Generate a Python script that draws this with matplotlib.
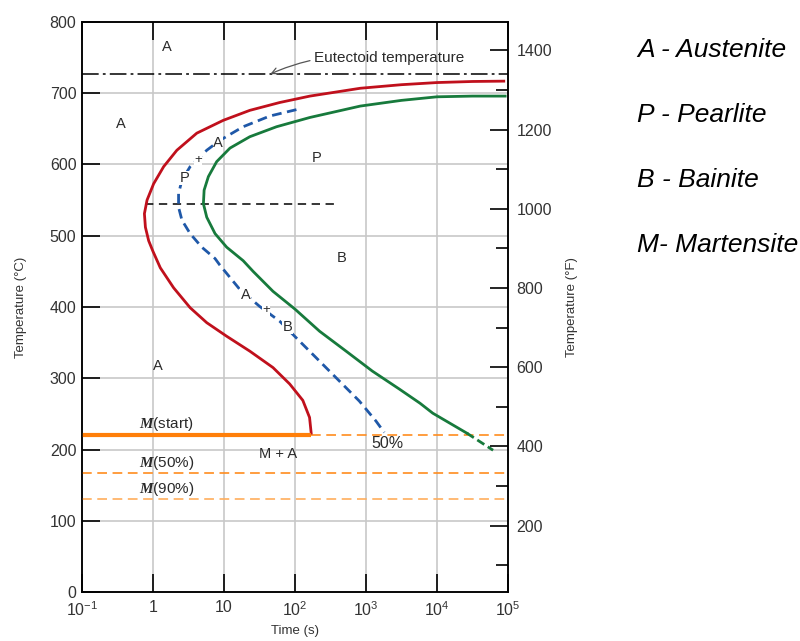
import matplotlib
matplotlib.use("Agg")
import matplotlib.pyplot as plt
import numpy as np

plt.rcParams['font.family'] = ['Liberation Sans', 'DejaVu Sans']
plt.rcParams['mathtext.fontset'] = 'custom'
plt.rcParams['mathtext.rm'] = 'Liberation Sans'
plt.rcParams['mathtext.it'] = 'Liberation Serif:italic:bold'
plt.rcParams['lines.scale_dashes'] = False

# ---------------- data (time as log10 of seconds, temperature in °C) ----------------
# start of transformation (red)
start_logt = [4.96, 4.5, 4.0, 3.5, 2.92, 2.21, 1.785, 1.364, 0.99, 0.617, 0.336, 0.15, 0.009,
              -0.084, -0.121, -0.107, -0.061, 0.0, 0.103, 0.29, 0.523, 0.757, 1.037, 1.364,
              1.69, 1.925, 2.11, 2.205, 2.23]
start_T = [717, 716.5, 715, 712, 707, 696, 687, 676, 662, 644, 620, 597, 573,
           550, 531, 512, 493, 478, 455, 427, 399, 378, 359, 338,
           315, 292, 269, 245, 221]

# 50% transformation (blue dashed)
half_logt = [2.02, 1.645, 1.27, 0.944, 0.757, 0.523, 0.407, 0.36, 0.36, 0.407, 0.523, 0.687,
             0.874, 0.94, 1.22, 1.50, 1.785, 2.065, 2.346, 2.626, 2.906, 3.14, 3.257]
half_T = [677, 668, 653, 634, 620, 597, 578, 559, 540, 522, 503, 484,
          468, 459, 425, 401, 380, 352, 324, 296, 268, 240, 224]

# end of transformation (green)
end_logt = [4.96, 4.5, 4.0, 3.5, 2.92, 2.21, 1.74, 1.364, 1.084, 0.897, 0.78, 0.72, 0.71,
            0.757, 0.874, 1.037, 1.27, 1.41, 1.69, 2.0, 2.346, 2.72, 3.09, 3.467,
            3.76, 3.94, 4.42]
end_T = [696, 696, 695, 690, 682, 666, 653, 639, 623, 604, 583, 564, 545,
         526, 503, 484, 465, 450, 422, 397, 366, 338, 310, 285,
         265, 251, 223]
end_ext_logt = [4.42, 4.79]
end_ext_T = [223, 199]

eutectoid_T = 727
nose_T = 545
nose_t = [0.78, 400]
Ms_T = 221
M50_T = 167
M90_T = 130
Ms_end_t = 170

xticks = [0.1, 1, 10, 100, 1000, 1e4, 1e5]
xtick_labels = [r'$\mathdefault{10^{-1}}$', '1', '10', r'$\mathdefault{10^{2}}$',
                r'$\mathdefault{10^{3}}$', r'$\mathdefault{10^{4}}$', r'$\mathdefault{10^{5}}$']
yticks_C = [0, 100, 200, 300, 400, 500, 600, 700, 800]
yticks_F = [200, 400, 600, 800, 1000, 1200, 1400]
yminor_F = [100, 300, 500, 700, 900, 1100, 1300]

legend_lines = ['A - Austenite', 'P - Pearlite', 'B - Bainite', 'M- Martensite']

start_t = np.power(10.0, start_logt)
half_t = np.power(10.0, half_logt)
end_t = np.power(10.0, end_logt)
end_ext_t = np.power(10.0, end_ext_logt)

# ---------------- figure ----------------
fig = plt.figure(figsize=(8.0, 6.41), dpi=100)
ax = fig.add_axes([0.1025, 0.0764, 0.5325, 0.8893])
ax.set_xscale('log')
ax.set_xlim(0.1, 1e5)
ax.set_ylim(0, 800)

grid_c = '#c8c8c8'
for x in xticks[1:-1]:
    ax.axvline(x, color=grid_c, lw=1.2, zorder=0)
for y in yticks_C[1:-1]:
    ax.axhline(y, color=grid_c, lw=1.2, zorder=0)

red = '#c0101c'
blue = '#1f58a8'
green = '#177a3c'
orange = '#ff7f0a'
orange50 = '#ff8c1e'
orange90 = '#ffae5c'
txt = '#2a2a2a'

ax.plot(start_t, start_T, color=red, lw=2.0, zorder=4, solid_capstyle='butt', solid_joinstyle='round')
ax.plot(half_t, half_T, color=blue, lw=2.0, dashes=(7, 4), zorder=4)
ax.plot(end_t, end_T, color=green, lw=2.0, zorder=4, solid_joinstyle='round')
ax.plot(end_ext_t, end_ext_T, color=green, lw=2.0, dashes=(6, 3), zorder=4)

# eutectoid line
ax.plot([0.1, 1e5], [eutectoid_T, eutectoid_T], color='black', lw=1.1, dashes=(12, 3, 2, 3), zorder=3)
# nose dashed line
ax.plot(nose_t, [nose_T, nose_T], color='black', lw=1.1, dashes=(6, 4), zorder=3)

# martensite lines
ax.plot([0.1, Ms_end_t], [Ms_T, Ms_T], color=orange, lw=3.0, zorder=5, solid_capstyle='butt')
ax.plot([Ms_end_t, 1e5], [Ms_T, Ms_T], color=orange50, lw=1.2, dashes=(7, 4), zorder=3)
ax.plot([0.1, 1e5], [M50_T, M50_T], color=orange50, lw=1.2, dashes=(7, 4), zorder=3)
ax.plot([0.1, 1e5], [M90_T, M90_T], color=orange90, lw=1.2, dashes=(7, 4), zorder=3)

# labels
fs = 10.5
def lab(x, y, s, size=fs, bg=False):
    kw = dict(color=txt, fontsize=size, ha='center', va='center', zorder=6)
    if bg:
        kw['bbox'] = dict(facecolor='white', edgecolor='none', pad=0.3)
    ax.text(x, y, s, **kw)

lab(1.57, 765, 'A')
lab(0.355, 657, 'A')
lab(8.2, 630, 'A', bg=True)
lab(4.3, 606, '+', size=9.5, bg=True)
lab(2.75, 581, 'P', bg=True)
lab(200, 609, 'P')
lab(447, 469, 'B')
lab(20, 417, 'A', bg=True)
lab(39, 396, '+', size=9.5, bg=True)
lab(79, 372, 'B', bg=True)
lab(1.17, 317, 'A')
lab(58, 194, 'M + A')
lab(2000, 208, '50%', size=11.5)
lab(1.55, 236, r'$M$(start)', size=11)
lab(1.55, 181, r'$M$(50%)', size=11)
lab(1.55, 145, r'$M$(90%)', size=11)

ax.annotate('Eutectoid temperature', xy=(45, 727), xytext=(186, 749),
            fontsize=11, color=txt, ha='left', va='center',
            arrowprops=dict(arrowstyle='->', color='#555555', lw=0.9,
                            connectionstyle='arc3,rad=0.15',
                            shrinkA=1, shrinkB=0))

# axes styling
for s in ax.spines.values():
    s.set_linewidth(1.1)
ax.set_xticks(xticks)
ax.set_xticklabels(xtick_labels)
ax.xaxis.set_minor_locator(matplotlib.ticker.NullLocator())
ax.set_yticks(yticks_C)
ax.tick_params(axis='x', which='major', direction='in', length=13, width=1.2,
               top=True, bottom=True, labelsize=11.5, labelcolor='#333333', pad=6)
ax.tick_params(axis='y', which='major', direction='in', length=13, width=1.2,
               left=True, right=False, labelsize=11.5, labelcolor='#333333', pad=4)
ax.set_xlabel('Time (s)', fontsize=9.5, color='#333333', labelpad=4)
ax.set_ylabel('Temperature (°C)', fontsize=9.5, color='#333333', labelpad=16)

ax2 = ax.twinx()
ax2.set_ylim(0 * 9 / 5 + 32, 800 * 9 / 5 + 32)
ax2.set_yticks(yticks_F)
ax2.set_yticks(yminor_F, minor=True)
ax2.tick_params(axis='y', which='major', direction='in', length=13, width=1.2,
                labelsize=11.5, labelcolor='#333333', pad=6)
ax2.tick_params(axis='y', which='minor', direction='in', length=8.5, width=1.2)
ax2.set_ylabel('Temperature (°F)', fontsize=9.5, color='#333333', labelpad=10)
for s in ax2.spines.values():
    s.set_linewidth(1.1)

# legend text on right
for i, s in enumerate(legend_lines):
    fig.text(0.796, 1 - (50 + i * 65) / 641, s, fontsize=19, style='italic',
             color='black', ha='left', va='center')

fig.savefig('out.png', dpi=100)
